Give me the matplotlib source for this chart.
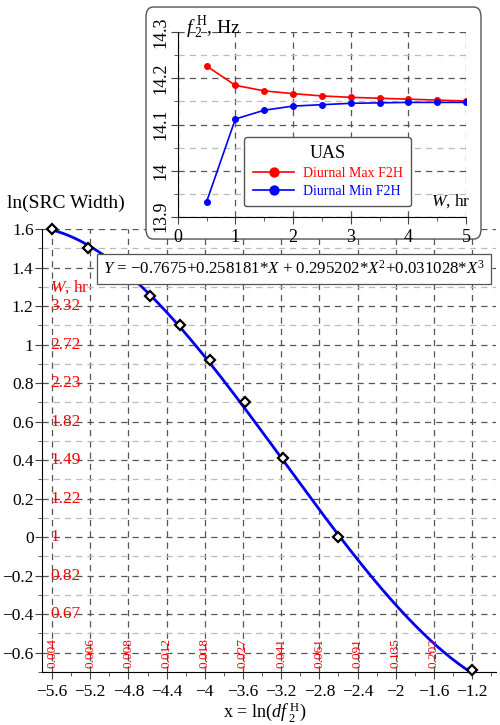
import numpy as np
import matplotlib
matplotlib.use("Agg")
from matplotlib import pyplot as plt
from matplotlib.patches import FancyBboxPatch
from matplotlib.ticker import MultipleLocator

plt.rcParams['font.family'] = ['Liberation Serif', 'DejaVu Serif']
plt.rcParams['mathtext.fontset'] = 'custom'
plt.rcParams['mathtext.rm'] = 'Liberation Serif'
plt.rcParams['mathtext.it'] = 'Liberation Serif:italic'

# main chart: ln(df2H) vs ln(W)
ln_df = [-5.60, -5.22, -4.87, -4.57, -4.26, -3.95, -3.58, -3.18, -2.60, -1.20]
ln_w = [1.60, 1.50, 1.39, 1.25, 1.10, 0.92, 0.70, 0.41, 0.00, -0.69]
fit_coef = [0.031028, 0.295202, 0.258181, -0.7675]  # X^3, X^2, X, 1
fit_text = "$Y$ = \u22120.7675+0.258181*$X$ + 0.295202*$X^2$+0.031028*$X^3$"

y_ticks = [-0.6, -0.4, -0.2, 0, 0.2, 0.4, 0.6, 0.8, 1, 1.2, 1.4, 1.6]
x_ticks = [-5.6, -5.2, -4.8, -4.4, -4.0, -3.6, -3.2, -2.8, -2.4, -2.0, -1.6, -1.2]
w_ticks = [1.2, 1.0, 0.8, 0.6, 0.4, 0.2, 0.0, -0.2, -0.4]
w_labels = ["3.32", "2.72", "2.23", "1.82", "1.49", "1.22", "1", "0.82", "0.67"]
df_ticks = [-5.6, -5.2, -4.8, -4.4, -4.0, -3.6, -3.2, -2.8, -2.4, -2.0, -1.6]
df_labels = ["0.004", "0.006", "0.008", "0.012", "0.018", "0.027",
             "0.041", "0.061", "0.091", "0.135", "0.202"]

# inset: diurnal F2H
w_hr = [0.5, 1.0, 1.5, 2.0, 2.5, 3.0, 3.5, 4.0, 4.5, 5.0]
f_max = [14.227, 14.185, 14.173, 14.167, 14.162, 14.159, 14.157, 14.155, 14.153, 14.151]
f_min = [13.932, 14.112, 14.131, 14.140, 14.143, 14.146, 14.147, 14.148, 14.148, 14.148]

fig = plt.figure(figsize=(5, 7.25), dpi=100)

ax = fig.add_axes([0.084, 0.0731, 0.908, 0.611])
ax.set_xlim(-5.705, -0.95)
ax.set_ylim(-0.7, 1.6)
for s in ['top', 'right']:
    ax.spines[s].set_visible(False)
ax.xaxis.set_minor_locator(MultipleLocator(0.2))
ax.yaxis.set_minor_locator(MultipleLocator(0.1))
ax.tick_params(which='both', labelsize=12.5, color='#444444')
ax.tick_params(which='major', length=5)
ax.tick_params(which='minor', length=3)
ax.tick_params(axis='y', pad=1)
ax.grid(True, which='major', axis='both', color='#555555', linestyle=(0, (5, 4)), linewidth=0.9)
ax.grid(True, which='minor', axis='y', color='#bbbbbb', linestyle=(0, (5, 4)), linewidth=0.9)
ax.set_axisbelow(True)
ax.set_xticks(x_ticks)
ax.set_xticklabels([f"{v:g}".replace('-', '\u2212') for v in x_ticks])
ax.set_yticks(y_ticks)
ax.set_yticklabels([f"{v:g}".replace('-', '\u2212') for v in y_ticks])

xs = np.linspace(min(ln_df), max(ln_df), 300)
ax.plot(xs, np.polyval(fit_coef, xs), color='#0000ee', linewidth=2, zorder=3, clip_on=False)
ax.plot(ln_df, ln_w, linestyle='none', marker='D', markersize=5.5, clip_on=False,
        markerfacecolor='white', markeredgecolor='black', markeredgewidth=1.6, zorder=4)

for y, lab in zip(w_ticks, w_labels):
    ax.text(-5.62, y, lab, color='red', fontsize=12.5, ha='left', va='center', zorder=2)
ax.text(-5.62, 1.3, "$W$, hr", color='red', fontsize=12.5, ha='left', va='center')
for x, lab in zip(df_ticks, df_labels):
    ax.text(x, -0.6, lab, color='red', fontsize=9.5, rotation=90, ha='center', va='center')

ax.text(-3.065, 1.392, fit_text, fontsize=12.2, ha='center', va='center', zorder=5,
        bbox=dict(boxstyle='square,pad=0.35', facecolor='white', edgecolor='#555555', linewidth=0.9))

fig.text(0.014, 0.719, "ln(SRC Width)", fontsize=14, ha='left', va='center')
fig.text(0.53, 0.018, r"x = ln($df_{\ 2}^{\ \mathrm{H}}$)", fontsize=13, ha='center', va='center')

# rounded frame around inset
frame = FancyBboxPatch((0.292, 0.6703), 0.670, 0.320,
                       boxstyle='round,pad=0,rounding_size=0.014',
                       transform=fig.transFigure, facecolor='white',
                       edgecolor='#555555', linewidth=1.0, zorder=1)
fig.patches.append(frame)

ins = fig.add_axes([0.3554, 0.7011, 0.5766, 0.2543], zorder=2)
ins.patch.set_alpha(0)
ins.set_xlim(0, 5)
ins.set_ylim(13.9, 14.3)
for s in ['top', 'right']:
    ins.spines[s].set_visible(False)
ins.xaxis.set_major_locator(MultipleLocator(1))
ins.xaxis.set_minor_locator(MultipleLocator(0.5))
ins.yaxis.set_major_locator(MultipleLocator(0.1))
ins.yaxis.set_minor_locator(MultipleLocator(0.05))
ins.tick_params(which='both', labelsize=13, color='#444444')
ins.tick_params(which='major', length=5)
ins.tick_params(which='minor', length=3)
ins.tick_params(axis='y', labelrotation=90, pad=1)
ins.set_yticks([13.9, 14.0, 14.1, 14.2, 14.3])
ins.set_yticklabels(["13.9", "14", "14.1", "14.2", "14.3"], va='center')
ins.grid(True, which='major', color='#555555', linestyle=(0, (5, 4)), linewidth=0.9)
ins.grid(True, which='minor', axis='y', color='#bbbbbb', linestyle=(0, (5, 4)), linewidth=0.9)
ins.set_axisbelow(True)

ins.plot(w_hr, f_max, color='red', marker='o', markersize=4, linewidth=1.2, label='Diurnal Max F2H')
ins.plot(w_hr, f_min, color='blue', marker='o', markersize=4, linewidth=1.2, label='Diurnal Min F2H')

ins.text(0.15, 14.31, r"$f_{\ 2}^{\ \mathrm{H}}$, Hz", fontsize=14, ha='left', va='center')
ins.text(5.07, 13.915, "$W$, hr", fontsize=12.5, ha='right', va='bottom')

leg = ins.legend(loc='upper right', bbox_to_anchor=(0.822, 0.811), bbox_transform=fig.transFigure,
                 borderaxespad=0, title='UAS', title_fontsize=13, fontsize=10,
                 markerscale=1.6, handlelength=3.0, handletextpad=0.6, labelspacing=0.35,
                 borderpad=0.6, fancybox=True, framealpha=1, edgecolor='#555555')
leg.get_frame().set_linewidth(1.0)
for txt, c in zip(leg.get_texts(), ['red', 'blue']):
    txt.set_color(c)

fig.savefig("out.png", dpi=100)
